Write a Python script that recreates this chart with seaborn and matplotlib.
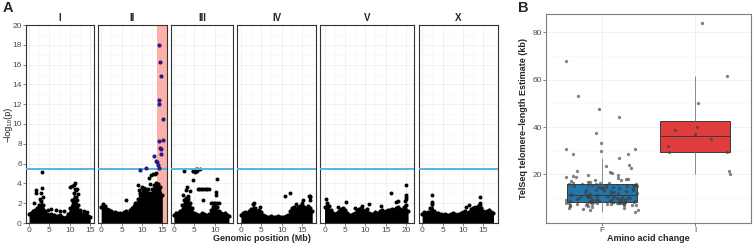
import numpy as np
import pandas as pd
import seaborn as sns
import matplotlib.pyplot as plt

sns.set_theme(style="white")
plt.rcParams['font.family'] = ['Liberation Sans', 'DejaVu Sans']

# ---- panel A: Manhattan plot ----
chroms = ["I", "II", "III", "IV", "V", "X"]
chrom_len = [15.07, 15.28, 13.78, 17.49, 20.92, 17.72]

# top of the dense marker cloud, one value every 0.5 Mb
env_I = [0.9, 1.0, 1.2, 1.3, 1.5, 1.8, 2.2, 1.8, 1.2, 0.9, 0.8, 0.9, 0.8, 0.7, 0.7, 0.8,
         0.6, 0.5, 0.6, 0.9, 1.5, 2.3, 3.0, 2.6, 1.8, 1.2, 0.9, 0.8, 0.9, 0.7, 0.6]
env_II = [1.6, 1.9, 1.7, 1.4, 1.3, 1.2, 1.0, 1.1, 1.0, 1.0, 0.9, 1.1, 1.2, 1.0, 1.3, 1.5,
          1.7, 2.0, 2.4, 3.0, 3.5, 3.2, 3.2, 3.0, 3.0, 3.4, 3.8, 4.0, 3.9, 3.6, 2.8]
env_III = [0.8, 1.0, 1.0, 1.2, 1.8, 2.3, 2.5, 2.4, 2.0, 1.5, 1.0, 0.9, 0.8, 0.8, 1.0, 0.9,
           0.8, 0.9, 1.3, 1.6, 1.8, 1.6, 1.2, 1.0, 0.9, 1.0, 0.8, 0.7]
env_IV = [0.8, 1.0, 1.1, 1.0, 1.2, 1.4, 1.9, 1.5, 1.2, 1.3, 1.1, 0.8, 0.7, 0.6, 0.6, 0.7,
          0.6, 0.6, 0.7, 0.6, 0.6, 0.6, 0.7, 0.8, 1.2, 1.5, 1.6, 1.4, 1.6, 1.7, 1.8, 1.6,
          1.5, 1.7, 1.5, 1.2]
env_V = [1.6, 2.0, 1.7, 1.3, 1.0, 0.9, 1.0, 1.2, 1.4, 1.5, 1.3, 1.0, 0.8, 0.8, 0.9, 1.0,
         1.3, 1.4, 1.5, 1.3, 1.2, 1.4, 1.0, 0.9, 0.9, 1.1, 1.0, 1.2, 1.3, 1.1, 1.2, 1.3,
         1.3, 1.4, 1.3, 1.5, 1.6, 1.4, 1.3, 1.6, 1.8, 1.2]
env_X = [0.9, 1.1, 1.0, 1.1, 1.5, 1.9, 1.2, 1.0, 1.0, 0.9, 0.8, 0.9, 0.8, 0.8, 0.9, 1.0,
         0.9, 0.8, 0.9, 1.0, 1.1, 1.2, 1.0, 1.1, 1.4, 1.5, 1.5, 1.6, 1.8, 1.5, 1.2, 1.1,
         1.2, 1.3, 1.1, 1.0]

# isolated markers above the cloud (position Mb, -log10 p)
pos_I = [3.1, 3.1, 3.0, 1.6, 1.7, 1.2, 2.7, 3.3, 10.0, 10.6, 11.2, 11.0, 11.5, 11.3, 11.8,
         12.0, 11.7, 12.6, 13.5, 14.2, 4.6, 6.5, 7.5, 8.5, 5.4]
p_I = [5.2, 3.5, 3.0, 3.3, 3.0, 2.0, 2.4, 2.6, 3.6, 3.7, 4.0, 3.8, 3.3, 3.4, 3.4,
       2.9, 2.3, 1.3, 1.2, 1.1, 1.3, 1.3, 1.2, 1.2, 1.4]
pos_II = [6.1, 9.0, 9.3, 10.0, 10.5, 11.0, 11.4, 11.8, 12.3, 12.8, 13.1, 13.4, 12.0, 9.6, 8.2]
p_II = [2.3, 3.8, 3.3, 3.6, 3.5, 3.4, 3.4, 4.5, 4.8, 4.9, 5.0, 5.1, 3.9, 2.8, 2.0]
pos_III = [2.6, 4.6, 4.8, 5.0, 5.1, 5.3, 5.5, 5.6, 5.7, 6.5, 4.7, 3.2, 2.9, 4.0, 5.8, 6.2,
           6.6, 7.0, 7.4, 7.8, 8.2, 8.6, 10.5, 10.4, 10.3, 7.2, 9.0, 9.4, 9.8, 10.2, 10.6,
           11.0, 2.2, 3.5]
p_III = [5.3, 5.25, 5.3, 5.35, 5.2, 5.4, 5.45, 5.3, 5.5, 5.45, 4.3, 3.6, 3.35, 3.2, 3.45, 3.45,
         3.45, 3.45, 3.45, 3.45, 3.45, 3.45, 4.4, 3.1, 2.85, 2.3, 2.0, 2.0, 2.0, 2.0, 2.0,
         2.0, 2.8, 2.7]
pos_IV = [10.8, 12.1, 16.6, 16.9, 17.0, 15.2, 15.1, 16.9, 13.5, 4.8, 3.3]
p_IV = [2.77, 3.07, 2.77, 2.77, 2.6, 2.37, 2.0, 2.3, 1.9, 1.6, 2.0]
pos_V = [0.3, 5.2, 9.1, 10.9, 13.9, 16.3, 17.5, 18.1, 20.0, 20.0, 20.0, 19.9, 19.8, 7.5, 3.3]
p_V = [2.4, 2.1, 1.7, 1.9, 1.7, 3.0, 2.1, 2.2, 3.8, 2.8, 2.65, 2.4, 2.2, 1.5, 1.6]
pos_X = [2.3, 2.4, 10.8, 11.5, 13.0, 14.1, 14.2, 14.3, 12.6]
p_X = [2.8, 2.1, 1.6, 1.8, 1.6, 2.6, 2.0, 1.8, 1.5]

# significant markers on chromosome II
hit_pos = [9.6, 10.9, 13.0, 13.5, 13.6, 14.1, 14.1, 14.5, 14.6, 14.25, 14.2, 15.1, 15.2,
           14.2, 14.4, 14.6, 14.6, 13.9]
hit_p = [5.4, 5.55, 6.8, 6.3, 6.2, 5.6, 18.0, 16.3, 14.8, 12.4, 12.0, 10.5, 8.4,
         8.3, 7.6, 7.5, 7.0, 5.9]
threshold = 5.5
qtl_start, qtl_end = 13.7, 16.2

# ---- panel B: telomere length by amino acid ----
f_vals = [53.2, 68.0, 47.5, 44.2, 37.3, 33.2, 30.9, 29.7, 30.8, 28.8, 27.0, 28.6, 22.7, 24.1,
          21.5, 20.8, 18.8, 19.4, 19.6, 19.0, 17.5, 18.2, 16.8, 17.0, 16.5, 17.2, 18.6, 16.3,
          16.1, 16.4, 17.8, 18.0, 19.9, 21.0, 23.5,
          4.0, 4.9, 5.0, 5.3, 5.7, 5.8, 6.2, 6.6, 6.8, 7.0, 7.1, 7.2, 7.3, 7.4, 7.5, 7.6, 7.6,
          7.7, 7.8, 7.8, 7.9, 7.9, 8.0, 8.0, 8.1, 8.1, 8.2, 8.2, 8.2, 8.3, 8.3, 8.3, 8.4, 8.4,
          6.9,
          8.5, 8.5, 8.6, 8.6, 8.7, 8.8, 8.8, 8.9, 9.0, 9.0, 9.1, 9.2, 9.3, 9.4, 9.5, 9.5, 9.6,
          9.7, 9.8, 9.9, 10.0, 10.1, 10.2, 10.3, 10.4, 10.5, 10.6, 10.7, 10.8, 10.9, 11.0,
          11.0, 11.1, 11.1, 11.2,
          11.3, 11.4, 11.6, 11.8, 12.0, 12.1, 12.3, 12.5, 12.6, 12.8, 13.0, 13.1, 13.3, 13.5,
          13.6, 13.8, 14.0, 14.1, 14.3, 14.5, 14.6, 14.8, 14.9, 15.0, 15.1, 15.2, 15.3, 15.4,
          15.5, 15.6, 15.6, 15.7, 15.8, 15.8, 15.9]
i_vals = [83.8, 61.7, 50.2, 38.6, 35.0, 39.9, 37.1, 32.2, 29.5, 29.5, 21.3, 20.3]

W, H = 753, 244
fig = plt.figure(figsize=(W / 100, H / 100), dpi=100)

envs = [env_I, env_II, env_III, env_IV, env_V, env_X]
sp_pos = [pos_I, pos_II, pos_III, pos_IV, pos_V, pos_X]
sp_p = [p_I, p_II, p_III, p_IV, p_V, p_X]

tick_kw = dict(labelsize=6, colors='#4d4d4d', length=2, width=0.5, pad=1)
x0, gap, total = 26, 4.5, 472
span = [l * 1.1 for l in chrom_len]
unit = (total - 5 * gap) / sum(span)
left = x0
for k, ch in enumerate(chroms):
    w = span[k] * unit
    ax = fig.add_axes([left / W, 1 - 223 / H, w / W, (223 - 25) / H])
    left += w + gap
    L = chrom_len[k]
    grid = np.arange(len(envs[k])) * 0.5
    if ch == "II":
        ax.axvspan(qtl_start, qtl_end, color='#fbb1a9', lw=0, zorder=1)
    ax.fill_between(grid, 0, envs[k], color='black', lw=0, zorder=2)
    sns.scatterplot(x=grid, y=envs[k], ax=ax, color='black', s=9, linewidth=0, zorder=3)
    sns.scatterplot(x=sp_pos[k], y=sp_p[k], ax=ax, color='black', s=8, linewidth=0, zorder=3)
    ax.axhline(threshold, color='#56B4E9', lw=1.4, zorder=4)
    if ch == "II":
        sns.scatterplot(x=hit_pos, y=hit_p, ax=ax, color='#2d1b8a', s=9, linewidth=0, zorder=5)
    ax.set_xlim(-0.05 * L, 1.05 * L)
    ax.set_ylim(0, 20)
    ax.set_xticks(np.arange(0, L, 5))
    ax.set_yticks(np.arange(0, 21, 2))
    ax.set_yticks(np.arange(1, 20, 2), minor=True)
    ax.set_xticks(np.arange(2.5, L, 5), minor=True)
    ax.grid(True, which='major', color='#ebebeb', lw=0.5)
    ax.grid(True, which='minor', color='#f5f5f5', lw=0.4)
    ax.set_axisbelow(True)
    ax.tick_params(axis='both', which='major', bottom=True, left=(k == 0), **tick_kw)
    ax.tick_params(which='minor', length=0)
    if k > 0:
        ax.set_yticklabels([])
    for s in ax.spines.values():
        s.set_color('#333333')
        s.set_linewidth(0.8)
    ax.set_title(ch, fontsize=7, fontweight='bold', pad=3)
    ax.set_xlabel('')
    ax.set_ylabel('')

fig.text(262 / W, 1 - 243 / H, 'Genomic position (Mb)', fontsize=6.5, fontweight='bold',
         ha='center', va='bottom')
fig.text(8 / W, 1 - 124 / H, '\u2212log\u2081\u2080(p)', fontsize=6.5, rotation=90,
         ha='center', va='center', color='#222222')
fig.text(8 / W, 1 - 8 / H, 'A', fontsize=10.5, fontweight='bold', ha='center', va='center')
fig.text(523 / W, 1 - 8 / H, 'B', fontsize=10.5, fontweight='bold', ha='center', va='center')

# ---- panel B ----
df = pd.DataFrame({'change': ['F'] * len(f_vals) + ['I'] * len(i_vals),
                   'tl': f_vals + i_vals})
axb = fig.add_axes([546 / W, 1 - 223 / H, 205 / W, 209 / H])
sns.boxplot(data=df, x='change', y='tl', order=['F', 'I'], hue='change',
            palette={'F': '#0b7bc0', 'I': '#fc2121'}, legend=False, width=0.75,
            showfliers=False, showcaps=False, linewidth=0.7, linecolor='#3a3a3a',
            whiskerprops={'color': '#8a8a8a'}, ax=axb)
np.random.seed(11)
sns.stripplot(data=df, x='change', y='tl', order=['F', 'I'], color='#3f3f3f', alpha=0.65,
              size=2.4, jitter=0.4, linewidth=0, ax=axb)
axb.set_xlim(-0.6, 1.6)
axb.set_ylim(-0.5, 87.7)
axb.set_yticks([20, 40, 60, 80])
axb.set_yticks([10, 30, 50, 70], minor=True)
axb.grid(True, which='major', color='#ebebeb', lw=0.5)
axb.grid(True, which='minor', axis='y', color='#f5f5f5', lw=0.4)
axb.set_axisbelow(True)
axb.tick_params(axis='both', which='major', bottom=True, left=True, **tick_kw)
axb.tick_params(which='minor', length=0)
for s in axb.spines.values():
    s.set_color('#7f7f7f')
    s.set_linewidth(0.8)
axb.set_xlabel('Amino acid change', fontsize=6.5, fontweight='bold', labelpad=0)
axb.set_ylabel('TelSeq telomere\u2212length Estimate (kb)', fontsize=6.5, fontweight='bold',
               labelpad=3)

fig.savefig('out.png', dpi=100)
